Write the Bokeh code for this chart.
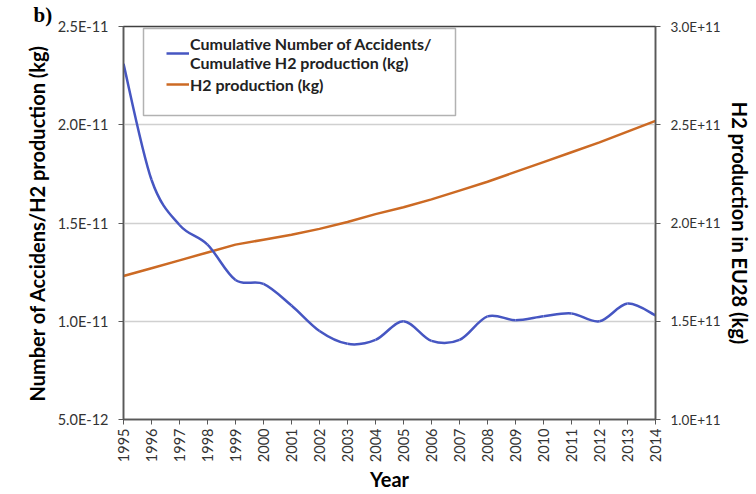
import math
from bokeh.plotting import figure
from bokeh.models import (Range1d, LinearAxis, FixedTicker, CustomJSTickFormatter,
                          Legend, LegendItem, BoxAnnotation, ColumnDataSource)
from bokeh.embed import file_html
from bokeh.resources import INLINE

years = list(range(1995, 2015))
accident_ratio = [2.31e-11, 1.72e-11, 1.49e-11, 1.39e-11, 1.21e-11, 1.19e-11, 1.08e-11,
                  0.95e-11, 0.885e-11, 0.905e-11, 1.00e-11, 0.90e-11, 0.905e-11, 1.025e-11,
                  1.005e-11, 1.025e-11, 1.04e-11, 1.00e-11, 1.09e-11, 1.03e-11]
h2_production = [1.73e11, 1.77e11, 1.81e11, 1.85e11, 1.89e11, 1.915e11, 1.94e11, 1.97e11,
                 2.005e11, 2.045e11, 2.08e11, 2.12e11, 2.165e11, 2.21e11, 2.26e11, 2.31e11,
                 2.36e11, 2.41e11, 2.465e11, 2.52e11]
left_ticks = [5e-12, 1e-11, 1.5e-11, 2e-11, 2.5e-11]
right_ticks = [1e11, 1.5e11, 2e11, 2.5e11, 3e11]
series_names = ["Cumulative Number of Accidents/\nCumulative H2 production (kg)", "H2 production (kg)"]

BLUE = "#4656C2"
ORANGE = "#CC6A24"
FONT = "Lato"

W, H = 756, 494
BL, BR, BT, BB = 123, 101, 25, 74

p = figure(width=W, height=H, output_backend="svg", toolbar_location=None,
           x_range=Range1d(1995, 2014), y_range=Range1d(5e-12, 2.5e-11),
           min_border_left=BL, min_border_right=BR, min_border_top=BT, min_border_bottom=BB)
p.extra_y_ranges = {"h2": Range1d(1e11, 3e11)}

# panel tag
p.title.text = "b)"
p.title.align = "left"
p.title.offset = -90
p.title.standoff = 0
p.title.text_font = "Liberation Serif"
p.title.text_font_style = "bold"
p.title.text_font_size = "21px"
p.title.text_color = "#000000"

# smoothed (Excel-style) curve for the ratio series via cubic Bezier segments
n = len(years)
bx0, by0, bx1, by1, bcx0, bcy0, bcx1, bcy1 = [], [], [], [], [], [], [], []
for i in range(n - 1):
    im1 = max(i - 1, 0)
    ip2 = min(i + 2, n - 1)
    bx0.append(years[i]); by0.append(accident_ratio[i])
    bx1.append(years[i + 1]); by1.append(accident_ratio[i + 1])
    bcx0.append(years[i] + (years[i + 1] - years[im1]) / 6)
    bcy0.append(accident_ratio[i] + (accident_ratio[i + 1] - accident_ratio[im1]) / 6)
    bcx1.append(years[i + 1] - (years[ip2] - years[i]) / 6)
    bcy1.append(accident_ratio[i + 1] - (accident_ratio[ip2] - accident_ratio[i]) / 6)
bsrc = ColumnDataSource(dict(x0=bx0, y0=by0, x1=bx1, y1=by1, cx0=bcx0, cy0=bcy0, cx1=bcx1, cy1=bcy1))

r_orange = p.line(years, h2_production, y_range_name="h2", line_color=ORANGE, line_width=2.5)
r_blue = p.bezier(x0="x0", y0="y0", x1="x1", y1="y1", cx0="cx0", cy0="cy0", cx1="cx1", cy1="cy1",
                  source=bsrc, line_color=BLUE, line_width=2.5)

fmt = CustomJSTickFormatter(code="return tick.toExponential(1).toUpperCase();")

yax = p.yaxis[0]
yax.ticker = FixedTicker(ticks=left_ticks)
yax.formatter = fmt
yax.axis_label = "Number of Accidens/H2 production (kg)"

rax = LinearAxis(y_range_name="h2", ticker=FixedTicker(ticks=right_ticks), formatter=fmt,
                 axis_label="H2 production in EU28 (kg)")
p.add_layout(rax, "right")

xax = p.xaxis[0]
xax.ticker = FixedTicker(ticks=years)
xax.major_label_orientation = math.pi / 2
xax.axis_label = "Year"

for ax in [yax, rax, xax]:
    ax.major_label_text_font = FONT
    ax.major_label_text_font_size = "14.5px"
    ax.major_label_text_color = "#333333"
    ax.axis_label_text_font = FONT
    ax.axis_label_text_font_style = "bold"
    ax.axis_label_text_font_size = "20px"
    ax.axis_label_text_color = "#000000"
    ax.axis_line_color = "#595959"
    ax.axis_line_width = 1.5
    ax.major_tick_line_color = "#595959"
    ax.major_tick_in = 0
    ax.major_tick_out = 5
    ax.minor_tick_line_color = None
rax.major_label_text_font_size = "13.5px"
yax.major_label_standoff = 10
yax.axis_label_standoff = 6
rax.major_label_standoff = 10
rax.axis_label_standoff = 4
xax.major_label_standoff = 4
xax.axis_label_standoff = 2

p.xgrid.grid_line_color = None
p.ygrid.ticker = FixedTicker(ticks=left_ticks)
p.ygrid.grid_line_color = "#D0D0D0"
p.ygrid.grid_line_width = 1.5
p.outline_line_color = "#404040"
p.outline_line_width = 1.5

frame_h = H - BT - BB

legend_box = BoxAnnotation(left=20, right=332, top=frame_h - 4, bottom=frame_h - 91,
                           left_units="screen", right_units="screen",
                           top_units="screen", bottom_units="screen",
                           fill_color="white", fill_alpha=1,
                           line_color="#000000", line_width=1.5, level="annotation")
p.add_layout(legend_box)

legend = Legend(items=[LegendItem(label=series_names[0], renderers=[r_blue]),
                       LegendItem(label=series_names[1], renderers=[r_orange])],
                location=(43, frame_h - 70))
legend.border_line_alpha = 0
legend.background_fill_alpha = 0
legend.label_text_font = FONT
legend.label_text_font_style = "bold"
legend.label_text_font_size = "16px"
legend.label_text_color = "#222222"
legend.label_height = 20
legend.glyph_height = 20
legend.padding = 0
legend.margin = 0
legend.spacing = 2
legend.glyph_width = 23
legend.label_standoff = 1
p.add_layout(legend, "center")

p.background_fill_color = "white"
p.border_fill_color = "white"

open("out.html", "w").write(file_html(p, INLINE))
